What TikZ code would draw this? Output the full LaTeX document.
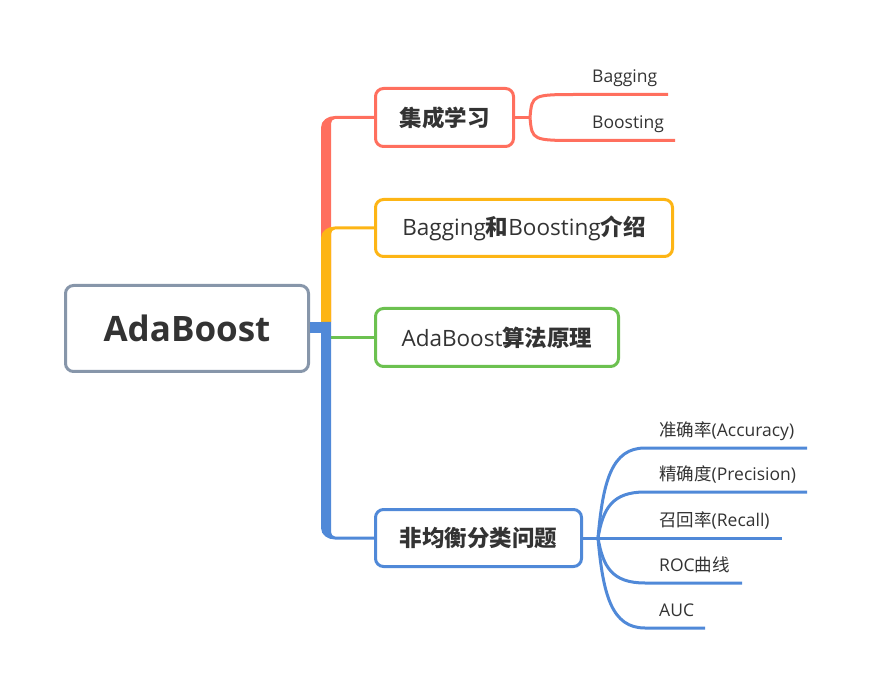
\documentclass[tikz,border=0pt]{standalone}
\usepackage{fontspec}
\setmainfont{Open Sans}
\newfontfamily\cjk{Noto Sans CJK SC}
\usetikzlibrary{calc}
\definecolor{cred}{HTML}{FF6F5E}
\definecolor{corange}{HTML}{FDB515}
\definecolor{cgreen}{HTML}{6CC150}
\definecolor{cblue}{HTML}{5089D8}
\definecolor{cgray}{HTML}{8796AA}
\colorlet{txt}{black!80}

\begin{document}
\begin{tikzpicture}
    [x=1pt,y=-1pt,
      topic/.style={draw,line width=3pt,rounded corners=8pt,fill=white,inner sep=0pt,
        minimum height=58,font=\fontsize{22.5}{27}\selectfont,text=txt},
      rootbox/.style={topic,draw=cgray,minimum width=243,minimum height=86,
        font=\fontsize{35}{42}\selectfont\bfseries},
      leaf/.style={anchor=base west,inner sep=0pt,font=\fontsize{17.5}{21}\selectfont,text=txt},
      leafline/.style={line width=3pt}]
    \useasboundingbox (0,0) rectangle (870,692);

    % topics
    \node[rootbox] (root) at (187,328.5) {AdaBoost};
    \node[topic,draw=cred,minimum width=138] (ens) at (444.5,117.5) {\bfseries\cjk 集成学习};
    \node[topic,draw=corange,minimum width=297,minimum height=57] (intro) at (524,228)
      {Bagging{\cjk\bfseries 和}Boosting{\cjk\bfseries 介绍}};
    \node[topic,draw=cgreen,minimum width=243] (algo) at (497,337.5) {AdaBoost{\cjk\bfseries 算法原理}};
    \node[topic,draw=cblue,minimum width=206,minimum height=57] (imb) at (478.5,538) {\bfseries\cjk 非均衡分类问题};

    \coordinate (hub) at (326,327.5);
    \coordinate (rbot) at (326,322);

    % tapered branches
    \fill[cred] let \p1=(ens.west), \p2=(rbot) in
      (\x2-5pt,\y2) -- (\x2-5pt,\y1-10pt) to[out=90,in=180] (\x2+9pt,\y1+1.5pt)
      -- (\x1,\y1+1.5pt) -- (\x1,\y1-1.5pt) -- (\x2+9pt,\y1-1.5pt)
      to[out=180,in=90] (\x2+5pt,\y1-6pt) -- (\x2+5pt,\y2) -- cycle;
    \fill[corange] let \p1=(intro.west), \p2=(rbot) in
      (\x2-5pt,\y2) -- (\x2-5pt,\y1-10pt) to[out=90,in=180] (\x2+9pt,\y1+1.5pt)
      -- (\x1,\y1+1.5pt) -- (\x1,\y1-1.5pt) -- (\x2+9pt,\y1-1.5pt)
      to[out=180,in=90] (\x2+5pt,\y1-6pt) -- (\x2+5pt,\y2) -- cycle;
    \draw[cgreen,leafline] (algo.west) -- (algo.west -| hub);
    \fill[cblue] let \p1=(imb.west), \p2=(hub) in
      (\x2-5pt,\y2+5.5pt) -- (\x2-5pt,\y1+10pt) to[out=-90,in=180] (\x2+9pt,\y1-1.5pt)
      -- (\x1,\y1-1.5pt) -- (\x1,\y1+1.5pt) -- (\x2+9pt,\y1+1.5pt)
      to[out=180,in=-90] (\x2+5pt,\y1+6pt) -- (\x2+5pt,\y2+5.5pt) -- cycle;
    \draw[cblue,line width=11pt] (root.east |- hub) -- ($(hub)+(5,0)$);

    % subtopics of ens
    \coordinate (rfork) at ($(ens.east)+(15,0)$);
    \draw[cred,leafline] (ens.east) -- (rfork);
    \foreach \ly/\len/\name/\txt in {94.5/88/bag/Bagging,140.5/95/boo/Boosting} {
      \coordinate (\name-s) at (580,\ly);
      \coordinate (\name-e) at (580+\len,\ly);
      \node[leaf] (\name) at ($(\name-s)+(12,-12)$) {\txt};
      \draw[cred,leafline] (rfork) .. controls (532,\ly) .. (\name-s) -- (\name-e);
    }

    % subtopics of imb
    \coordinate (bfork) at ($(imb.east)+(15,0)$);
    \draw[cblue,leafline] (imb.east) -- (bfork);
    \foreach \ly/\len/\name/\txt in {448/162/acc/{\cjk 准确率}(Accuracy),
        492/162/prec/{\cjk 精确度}(Precision),538/137/rec/{\cjk 召回率}(Recall),
        583/97/roc/ROC{\cjk 曲线},628/60/auc/AUC} {
      \coordinate (\name-s) at (645,\ly);
      \coordinate (\name-e) at (645+\len,\ly);
      \node[leaf] (\name) at ($(\name-s)+(14,-12)$) {\txt};
      \draw[cblue,leafline] (bfork) .. controls (603,538+0.64*\ly-0.64*538) and (612,\ly)
        .. (\name-s) -- (\name-e);
    }
\end{tikzpicture}
\end{document}
